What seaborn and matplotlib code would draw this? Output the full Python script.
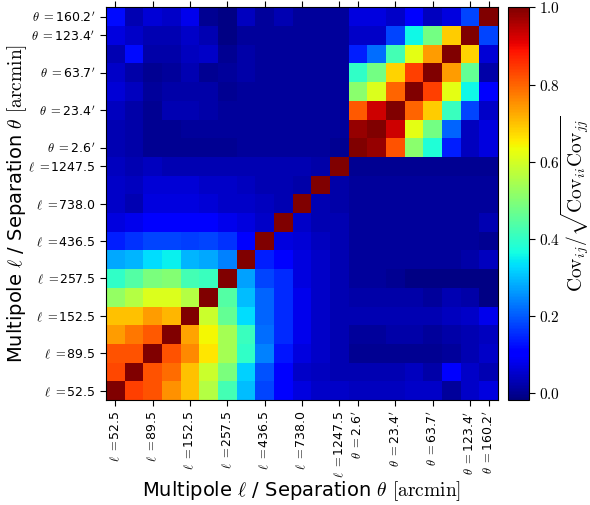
import numpy as np
import matplotlib
matplotlib.use("Agg")
import matplotlib.pyplot as plt
import seaborn as sns

plt.rcParams['font.family'] = ['DejaVu Sans']
plt.rcParams['mathtext.fontset'] = 'cm'

# correlation matrix, row 0 = lowest multipole bin (drawn at bottom)
row00 = [1.00, 0.84, 0.82, 0.75, 0.70, 0.56, 0.42, 0.30, 0.18, 0.10, 0.07, 0.05, 0.05, 0.04, 0.04, 0.04, 0.05, 0.05, 0.01, 0.05, 0.07]
row01 = [0.83, 1.00, 0.82, 0.79, 0.70, 0.59, 0.49, 0.32, 0.19, 0.10, 0.05, 0.04, 0.03, 0.03, 0.03, 0.03, 0.04, 0.02, 0.10, 0.05, 0.03]
row02 = [0.82, 0.82, 1.00, 0.82, 0.76, 0.66, 0.54, 0.40, 0.24, 0.13, 0.07, 0.05, 0.03, 0.00, 0.00, 0.00, 0.00, 0.00, 0.01, 0.03, 0.05]
row03 = [0.74, 0.78, 0.81, 1.00, 0.73, 0.64, 0.54, 0.41, 0.22, 0.15, 0.08, 0.05, 0.03, 0.01, 0.01, 0.02, 0.02, 0.01, 0.02, 0.03, 0.04]
row04 = [0.70, 0.70, 0.74, 0.71, 1.00, 0.59, 0.46, 0.33, 0.21, 0.15, 0.08, 0.05, 0.03, 0.03, 0.03, 0.03, 0.03, 0.03, 0.04, 0.05, 0.08]
row05 = [0.52, 0.56, 0.61, 0.61, 0.56, 1.00, 0.44, 0.30, 0.21, 0.15, 0.08, 0.05, 0.03, 0.02, 0.02, 0.02, 0.02, 0.01, 0.03, 0.02, -0.01]
row06 = [0.40, 0.44, 0.49, 0.50, 0.42, 0.41, 1.00, 0.27, 0.18, 0.15, 0.07, 0.05, 0.03, 0.01, 0.01, 0.00, -0.01, -0.01, -0.01, -0.01, -0.01]
row07 = [0.28, 0.29, 0.33, 0.35, 0.29, 0.28, 0.24, 1.00, 0.14, 0.10, 0.07, 0.05, 0.03, 0.01, 0.01, 0.01, 0.01, 0.01, 0.01, 0.02, 0.04]
row08 = [0.14, 0.16, 0.18, 0.18, 0.17, 0.18, 0.16, 0.10, 1.00, 0.07, 0.06, 0.04, 0.03, 0.01, 0.01, 0.01, 0.01, 0.01, 0.01, 0.01, 0.00]
row09 = [0.07, 0.08, 0.10, 0.10, 0.10, 0.10, 0.08, 0.07, 0.05, 1.00, 0.05, 0.03, 0.03, 0.01, 0.01, 0.01, 0.01, 0.01, 0.01, 0.01, 0.03]
row10 = [0.05, 0.03, 0.07, 0.07, 0.07, 0.06, 0.05, 0.05, 0.04, 0.03, 1.00, 0.03, 0.02, 0.01, 0.01, 0.01, 0.01, 0.01, 0.01, 0.01, 0.01]
row11 = [0.05, 0.04, 0.06, 0.06, 0.06, 0.05, 0.05, 0.04, 0.03, 0.03, 0.02, 1.00, 0.02, 0.01, 0.01, 0.01, 0.01, 0.01, 0.01, 0.01, 0.01]
row12 = [0.04, 0.03, 0.04, 0.03, 0.03, 0.03, 0.03, 0.03, 0.03, 0.03, 0.03, 0.02, 1.00, 0.00, 0.00, 0.00, 0.00, 0.00, 0.00, 0.00, 0.00]
row13 = [0.03, 0.02, 0.00, 0.00, 0.00, 0.00, 0.00, 0.01, 0.01, 0.01, 0.01, 0.01, 0.00, 1.00, 0.98, 0.82, 0.51, 0.38, 0.14, 0.04, 0.07]
row14 = [0.03, 0.02, 0.00, 0.00, 0.01, 0.01, 0.01, 0.01, 0.01, 0.01, 0.01, 0.01, 0.01, 0.98, 1.00, 0.93, 0.62, 0.48, 0.21, 0.04, 0.07]
row15 = [0.04, 0.02, 0.00, 0.03, 0.03, 0.02, 0.01, 0.01, 0.01, 0.01, 0.01, 0.01, 0.01, 0.81, 0.93, 1.00, 0.80, 0.69, 0.41, 0.18, 0.05]
row16 = [0.06, 0.04, 0.01, 0.02, 0.02, 0.02, 0.00, 0.01, 0.01, 0.01, 0.01, 0.01, 0.01, 0.51, 0.61, 0.80, 1.00, 0.84, 0.62, 0.36, 0.10]
row17 = [0.05, 0.02, 0.00, 0.01, 0.03, 0.00, 0.01, 0.02, 0.01, 0.01, 0.01, 0.01, 0.01, 0.40, 0.48, 0.68, 0.84, 1.00, 0.74, 0.46, 0.02]
row18 = [0.03, 0.12, 0.02, 0.02, 0.04, 0.05, 0.00, 0.02, 0.01, 0.01, 0.01, 0.01, 0.01, 0.14, 0.22, 0.42, 0.62, 0.74, 1.00, 0.68, 0.06]
row19 = [0.07, 0.05, 0.03, 0.03, 0.05, 0.03, -0.01, 0.01, 0.01, 0.01, 0.01, 0.01, 0.01, 0.05, 0.05, 0.18, 0.36, 0.48, 0.69, 1.00, 0.18]
row20 = [0.12, 0.03, 0.06, 0.05, 0.08, 0.00, -0.01, 0.04, 0.01, 0.03, 0.01, 0.01, 0.01, 0.07, 0.07, 0.05, 0.10, 0.04, 0.07, 0.18, 1.00]

rows = [row00, row01, row02, row03, row04, row05, row06, row07, row08, row09, row10,
        row11, row12, row13, row14, row15, row16, row17, row18, row19, row20]

ell_tick_labels = ["52.5", "89.5", "152.5", "257.5", "436.5", "738.0", "1247.5"]
ell_tick_bins = [0, 2, 4, 6, 8, 10, 12]
theta_tick_labels = ["2.6", "23.4", "63.7", "123.4", "160.2"]
theta_tick_bins = [13, 15, 17, 19, 20]

cbar_ticks = [0.0, 0.2, 0.4, 0.6, 0.8, 1.0]

mat = np.array(rows)
n = mat.shape[0]

fig = plt.figure(figsize=(5.9, 5.05), dpi=100)
ax = fig.add_axes([106 / 590, 1 - 400 / 505, 392 / 590, 392.7 / 505])
cax = fig.add_axes([508 / 590, 1 - 400 / 505, 21 / 590, 392.7 / 505])

sns.heatmap(mat, ax=ax, cbar_ax=cax, cmap='jet', vmin=-0.017, vmax=1.0,
            xticklabels=False, yticklabels=False, square=False)
ax.set_ylim(0, n)
ax.set_xlim(0, n)

labels = [r"$\ell\ =$" + s for s in ell_tick_labels] + [r"$\theta\ =$" + s + r"$'$" for s in theta_tick_labels]
pos = [b + 0.5 for b in ell_tick_bins + theta_tick_bins]
ax.set_xticks(pos)
ax.set_xticklabels(labels, rotation=90, fontsize=9)
ax.set_yticks(pos)
ax.set_yticklabels(labels, rotation=0, fontsize=9)
ax.tick_params(axis='x', top=True, bottom=True, labeltop=False, length=4, width=0.8)
ax.tick_params(axis='y', left=True, right=False, length=4, width=0.8)
for sp in ax.spines.values():
    sp.set_visible(True)
    sp.set_linewidth(0.8)

xl = r"Multipole $\ell$ / Separation $\theta$ $[\mathrm{arcmin}]$"
ax.set_xlabel(xl, fontsize=14, labelpad=0.5)
ax.set_ylabel(xl, fontsize=14, labelpad=-1)

cax.set_yticks(cbar_ticks)
cax.set_yticklabels([r"$%.1f$" % t for t in cbar_ticks], fontsize=11)
cax.tick_params(length=4, width=0.8)
cax.set_ylabel(r"$\mathrm{Cov}_{ij}/\sqrt{\mathrm{Cov}_{ii}\mathrm{Cov}_{jj}}$", fontsize=14, labelpad=-1.5)
cbar = ax.collections[0].colorbar
cbar.outline.set_visible(True)
cbar.outline.set_linewidth(0.8)

fig.savefig("out.png", dpi=100)
